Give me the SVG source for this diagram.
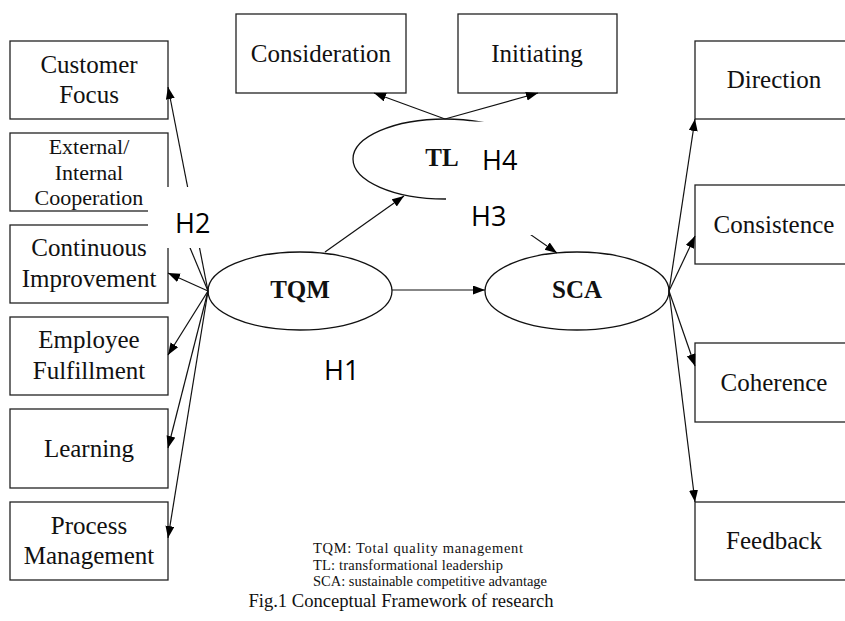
<svg xmlns="http://www.w3.org/2000/svg" width="845" height="621" viewBox="0 0 845 621">
<defs>
<marker id="ah" markerUnits="userSpaceOnUse" markerWidth="12" markerHeight="10" refX="12" refY="4.5" orient="auto">
<path d="M0,0 L12,4.5 L0,9 Z" fill="#000"/>
</marker>
<style>
.box{fill:#fff;stroke:#222;stroke-width:1.3}
.ell{fill:none;stroke:#111;stroke-width:1.3}
.lbl{font-family:"Liberation Serif","Times New Roman",serif;font-size:25px;fill:#111;text-anchor:middle}
.sm{font-size:22px}
.bold{font-weight:bold}
.con{stroke:#111;stroke-width:1.2;fill:none;marker-end:url(#ah)}
.h{font-family:"Open Sans","Noto Sans",sans-serif;font-size:27px;fill:#000}
.mask{fill:#fff;stroke:none}
.leg{font-family:"Liberation Serif","Times New Roman",serif;font-size:14.5px;fill:#111}
.cap{font-family:"Liberation Serif","Times New Roman",serif;font-size:18.6px;fill:#111;text-anchor:middle}
</style>
</defs>
<rect width="845" height="621" fill="#fff"/>

<g id="customer-focus"><rect class="box" x="10" y="41" width="158" height="78"/><text class="lbl" x="89" y="73">Customer</text><text class="lbl" x="89" y="103">Focus</text></g>
<g id="cooperation"><rect class="box" x="10" y="133" width="158" height="78"/><text class="lbl sm" x="89" y="154">External/</text><text class="lbl sm" x="89" y="180">Internal</text><text class="lbl sm" x="89" y="205">Cooperation</text></g>
<g id="continuous-improvement"><rect class="box" x="10" y="225" width="158" height="78"/><text class="lbl" x="89" y="256">Continuous</text><text class="lbl" x="89" y="287">Improvement</text></g>
<g id="employee-fulfillment"><rect class="box" x="10" y="317" width="158" height="78"/><text class="lbl" x="89" y="348">Employee</text><text class="lbl" x="89" y="379">Fulfillment</text></g>
<g id="learning"><rect class="box" x="10" y="409" width="158" height="79"/><text class="lbl" x="89" y="457">Learning</text></g>
<g id="process-management"><rect class="box" x="10" y="502" width="158" height="78"/><text class="lbl" x="89" y="534">Process</text><text class="lbl" x="89" y="564">Management</text></g>

<g id="consideration"><rect class="box" x="236" y="14" width="170" height="79"/><text class="lbl" x="321" y="62">Consideration</text></g>
<g id="initiating"><rect class="box" x="458" y="14" width="159" height="79"/><text class="lbl" x="537" y="62">Initiating</text></g>

<g id="direction"><rect class="box" x="695" y="41" width="159" height="78"/><text class="lbl" x="774" y="88">Direction</text></g>
<g id="consistence"><rect class="box" x="695" y="185" width="159" height="79"/><text class="lbl" x="774" y="233">Consistence</text></g>
<g id="coherence"><rect class="box" x="695" y="343" width="159" height="79"/><text class="lbl" x="774" y="391">Coherence</text></g>
<g id="feedback"><rect class="box" x="695" y="502" width="159" height="78"/><text class="lbl" x="774" y="549">Feedback</text></g>

<g id="tqm"><ellipse class="ell" cx="300" cy="291" rx="92" ry="39"/><text class="lbl bold" x="300" y="298">TQM</text></g>
<g id="sca"><ellipse class="ell" cx="577" cy="291" rx="92" ry="39"/><text class="lbl bold" x="577" y="298">SCA</text></g>
<g id="tl"><ellipse class="ell" cx="445" cy="159" rx="92" ry="40"/></g>

<g id="connectors">
<line class="con" x1="208" y1="291" x2="168" y2="87"/>
<line class="con" x1="208" y1="291" x2="168" y2="195"/>
<line class="con" x1="208" y1="291" x2="168" y2="273"/>
<line class="con" x1="208" y1="291" x2="168" y2="355"/>
<line class="con" x1="208" y1="291" x2="168" y2="448"/>
<line class="con" x1="208" y1="291" x2="168" y2="538"/>
<line class="con" x1="392" y1="290" x2="485" y2="290"/>
<line class="con" x1="325" y1="252" x2="404" y2="196"/>
<line class="con" x1="445" y1="119" x2="374" y2="93"/>
<line class="con" x1="445" y1="119" x2="538" y2="93"/>
<line class="con" x1="478" y1="198" x2="557" y2="253"/>
<line class="con" x1="669" y1="291" x2="695" y2="119"/>
<line class="con" x1="669" y1="291" x2="695" y2="236"/>
<line class="con" x1="669" y1="291" x2="695" y2="366"/>
<line class="con" x1="669" y1="291" x2="695" y2="502"/>
</g>

<g id="hypotheses">
<rect class="mask" x="148" y="187" width="64" height="61"/>
<text class="h" x="175" y="233">H2</text>
<rect class="mask" x="470" y="121.6" width="100" height="54.4"/>
<text class="h" x="482" y="170">H4</text>
<rect class="mask" x="446" y="176" width="110" height="59"/>
<text class="h" x="471" y="226">H3</text>
<text class="h" x="324" y="380">H1</text>
</g>
<text class="lbl bold" x="442" y="166">TL</text>

<g id="legend">
<text class="leg" x="313" y="553" textLength="210" lengthAdjust="spacing">TQM: Total quality management</text>
<text class="leg" x="313" y="569.5" textLength="190" lengthAdjust="spacing">TL: transformational leadership</text>
<text class="leg" x="313" y="586" textLength="234" lengthAdjust="spacing">SCA: sustainable competitive advantage</text>
<text class="cap" x="401" y="607">Fig.1 Conceptual Framework of research</text>
</g>
</svg>
